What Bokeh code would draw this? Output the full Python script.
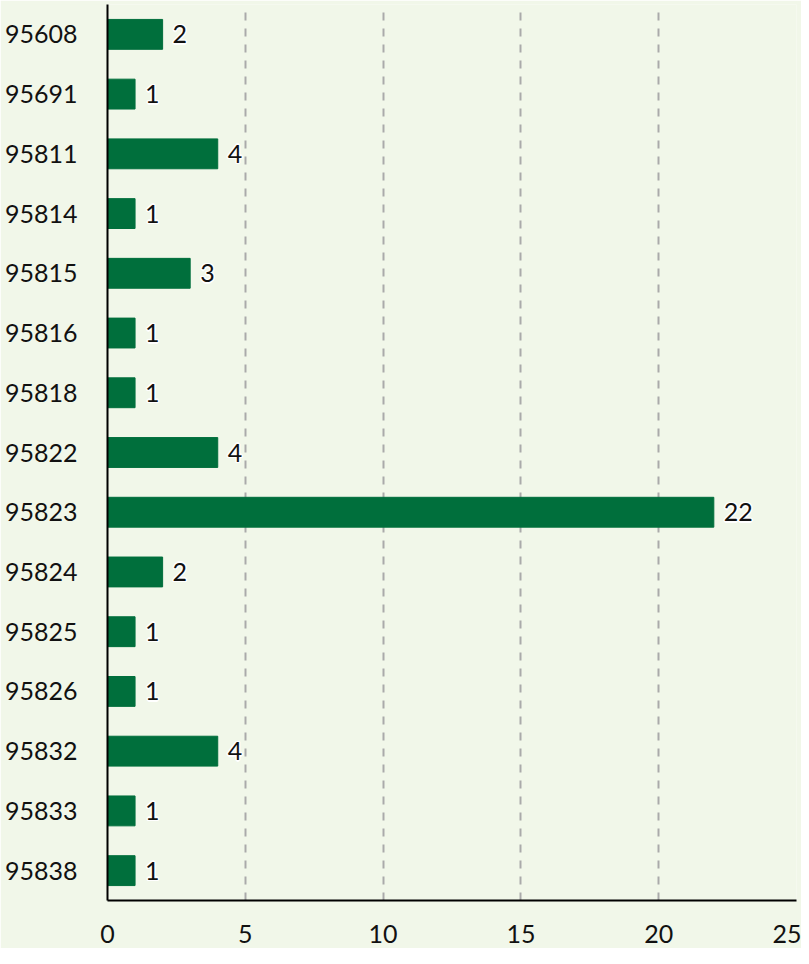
from bokeh.plotting import figure
from bokeh.models import ColumnDataSource, FactorRange, Range1d, FixedTicker
from bokeh.embed import file_html
from bokeh.resources import INLINE
from bokeh.core.properties import value

zips = ["95608", "95691", "95811", "95814", "95815", "95816", "95818", "95822",
        "95823", "95824", "95825", "95826", "95832", "95833", "95838"]
counts = [2, 1, 4, 1, 3, 1, 1, 4, 22, 2, 1, 1, 4, 1, 1]
x_ticks = [0, 5, 10, 15, 20, 25]

BG = "#f1f7e9"
BAR = "#006f3c"
FONT = "Lato"
FS = "25px"

src = ColumnDataSource(dict(zip=zips, count=counts, label=[str(c) for c in counts]))

p = figure(width=801, height=948, output_backend="svg", toolbar_location=None,
           y_range=FactorRange(factors=list(reversed(zips)), range_padding=0),
           x_range=Range1d(0, 25),
           min_border_left=107, min_border_right=5, min_border_top=4, min_border_bottom=48)
p.background_fill_color = BG
p.border_fill_color = BG
p.outline_line_color = None

p.hbar(y="zip", right="count", left=0, height=0.5, color=BAR, source=src)

for dx, dy in [(-1.5, 0), (1.5, 0), (0, -1.5), (0, 1.5), (-1, -1), (1, 1), (-1, 1), (1, -1)]:
    p.text(x="count", y="zip", text="label", source=src, x_offset=10 + dx, y_offset=dy,
           text_font=value(FONT), text_font_size=FS, text_color="white",
           text_baseline="middle", text_align="left")
p.text(x="count", y="zip", text="label", source=src, x_offset=10,
       text_font=value(FONT), text_font_size=FS, text_color="#111111",
       text_baseline="middle", text_align="left")

p.xaxis.ticker = FixedTicker(ticks=x_ticks)
for ax in (p.xaxis, p.yaxis):
    ax.axis_line_color = "black"
    ax.axis_line_width = 2
    ax.major_tick_line_color = None
    ax.minor_tick_line_color = None
    ax.major_label_text_font = FONT
    ax.major_label_text_font_size = FS
    ax.major_label_text_color = "#111111"
p.xaxis.major_label_standoff = 18
p.yaxis.major_label_standoff = 24

p.ygrid.grid_line_color = None
p.xgrid.ticker = FixedTicker(ticks=x_ticks[1:])
p.xgrid.grid_line_color = "#aaaaaa"
p.xgrid.grid_line_width = 2
p.xgrid.grid_line_dash = "8 8"

open("out.html", "w").write(file_html(p, INLINE))
